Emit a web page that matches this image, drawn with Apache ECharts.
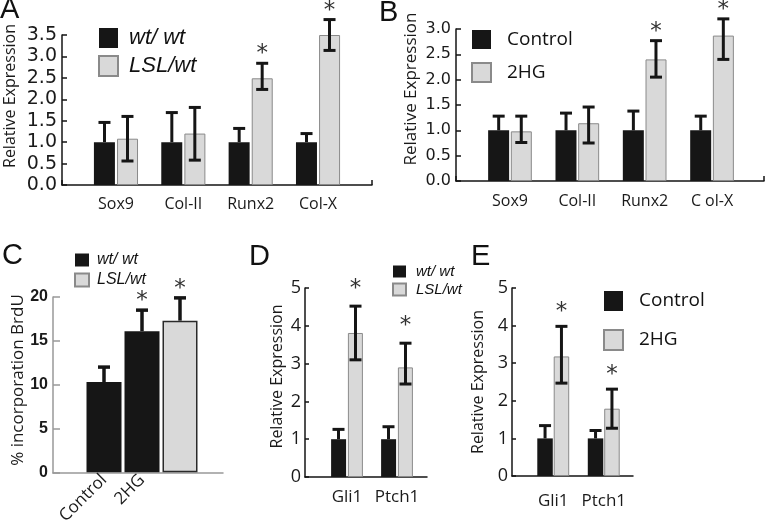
<!DOCTYPE html>
<html><head><meta charset="utf-8">
<script src="https://cdn.jsdelivr.net/npm/echarts@6/dist/echarts.min.js"></script>
<style>html,body{margin:0;padding:0;background:#fff}#c{width:768px;height:527px}</style>
</head><body><div id="c"></div>
<script>
// ---------- Panel A ----------
const aCats = ['Sox9', 'Col-II', 'Runx2', 'Col-X'];
const aWt = [1, 1, 1, 1];
const aWtHi = [1.46, 1.69, 1.32, 1.20];
const aLsl = [1.08, 1.20, 2.49, 3.50];
const aLslLo = [0.56, 0.58, 2.23, 3.14];
const aLslHi = [1.60, 1.81, 2.84, 3.86];
const aSig = [0, 0, 1, 1];
const aAxis = [0, 3.5, 0.5];
// ---------- Panel B ----------
const bCats = ['Sox9', 'Col-II', 'Runx2', 'C ol-X'];
const bCtrl = [1, 1, 1, 1];
const bCtrlHi = [1.28, 1.34, 1.38, 1.28];
const b2hg = [0.98, 1.14, 2.40, 2.87];
const b2hgLo = [0.76, 0.75, 2.05, 2.40];
const b2hgHi = [1.28, 1.46, 2.77, 3.20];
const bSig = [0, 0, 1, 1];
const bAxis = [0, 3.0, 0.5];
// ---------- Panel C ----------
const cCats = ['Control', '2HG', ''];
const cWt = [10.3, 16.1, '-'];
const cLsl = ['-', '-', 17.3];
const cVals = [10.3, 16.1, 17.3];
const cHi = [12.0, 18.5, 19.9];
const cSig = [0, 1, 1];
const cAxis = [0, 20, 5];
// ---------- Panel D ----------
const dCats = ['Gli1', 'Ptch1'];
const dWt = [1, 1];
const dWtHi = [1.26, 1.33];
const dLsl = [3.81, 2.90];
const dLslLo = [3.10, 2.46];
const dLslHi = [4.52, 3.54];
const dSig = [1, 1];
const dAxis = [0, 5, 1];
// ---------- Panel E ----------
const eCats = ['Gli1', 'Ptch1'];
const eCtrl = [1, 1];
const eCtrlHi = [1.34, 1.21];
const e2hg = [3.18, 1.79];
const e2hgLo = [2.47, 1.27];
const e2hgHi = [3.98, 2.31];
const eSig = [1, 1];
const eAxis = [0, 5, 1];

const BLACK = '#161616', GRAY = '#d9d9d9', GRAYB = '#8a8a8a', INK = '#151515';
const SANS = 'Open Sans';

function frameX(gi, color, endTick) {
  return { gridIndex: gi, type: 'value', min: 0, max: 1, interval: 1,
    axisLine: { show: true, onZero: false, lineStyle: { color: color, width: 1.5 } },
    axisTick: { show: endTick, inside: true, length: 5, lineStyle: { color: color, width: 1.5 } },
    axisLabel: { show: false }, splitLine: { show: false } };
}
function frameY(gi, ax, o) {
  return { gridIndex: gi, type: 'value', min: ax[0], max: ax[1], interval: ax[2],
    axisLine: { show: true, onZero: false, lineStyle: { color: o.color, width: 1.5 } },
    axisTick: { show: true, inside: true, length: o.tick, lineStyle: { color: o.color, width: 1.5 } },
    splitLine: { show: false },
    axisLabel: { margin: o.margin, color: '#1a1a1a', fontFamily: o.font, fontSize: o.size,
      fontWeight: o.weight || 'normal', formatter: o.fmt },
    name: o.name, nameLocation: 'middle', nameGap: o.gap,
    nameTextStyle: { fontFamily: SANS, fontSize: o.nsize, color: '#1a1a1a', padding: [0, 0, 0, o.shift] } };
}
function barsX(gi, cats, size, margin, extra) {
  return { gridIndex: gi, type: 'category', data: cats,
    axisLine: { show: false }, axisTick: { show: false }, splitLine: { show: false },
    axisLabel: Object.assign({ interval: 0, margin: margin, color: '#1a1a1a', fontFamily: SANS, fontSize: size }, extra || {}) };
}
function barsY(gi, ax) {
  return { gridIndex: gi, type: 'value', min: ax[0], max: ax[1], interval: ax[2], show: false };
}
function bar(name, gi, data, color, w, gap, border) {
  return { type: 'bar', name: name, xAxisIndex: gi, yAxisIndex: gi, data: data,
    barWidth: w, barGap: gap, silent: true,
    itemStyle: { color: color, borderColor: border ? border[0] : color, borderWidth: border ? border[1] : 0 } };
}
function errBars(gi, vals, lo, hi, sig, dx, starGap, lw, cap) {
  const data = vals.map(function (v, i) { return [i, v, lo ? lo[i] : v, hi[i], sig ? sig[i] : 0]; });
  return { type: 'custom', xAxisIndex: gi, yAxisIndex: gi, silent: true, z: 5, data: data,
    renderItem: function (params, api) {
      const i = api.value(0);
      const pHi = api.coord([i, api.value(3)]);
      const pLo = api.coord([i, api.value(2)]);
      const x = pHi[0] + dx;
      const st = { stroke: INK, lineWidth: lw };
      const ch = [
        { type: 'line', shape: { x1: x, y1: pLo[1], x2: x, y2: pHi[1] }, style: st },
        { type: 'line', shape: { x1: x - cap, y1: pHi[1], x2: x + cap, y2: pHi[1] }, style: st }
      ];
      if (lo) ch.push({ type: 'line', shape: { x1: x - cap, y1: pLo[1], x2: x + cap, y2: pLo[1] }, style: st });
      if (api.value(4)) ch.push({ type: 'text', x: x, y: pHi[1] - starGap + 4,
        style: { text: '*', font: '23px "DejaVu Sans"', fill: '#333', align: 'center', verticalAlign: 'middle' } });
      return { type: 'group', children: ch };
    } };
}
function letter(t, left, top) {
  return { type: 'text', left: left, top: top, style: { text: t, font: '29px "Liberation Sans"', fill: '#111' } };
}
const f1 = function (v) { return v.toFixed(1); };
const f0 = function (v) { return String(v); };

const option = {
  animation: false,
  backgroundColor: '#fff',
  grid: [
    { left: 62, top: 35, width: 310, height: 150 },
    { left: 82.3, top: 35, width: 269.4, height: 150 },
    { left: 456, top: 29, width: 308, height: 152 },
    { left: 476.3, top: 29, width: 269.4, height: 152 },
    { left: 53, top: 297, width: 170, height: 176 },
    { left: 85, top: 297, width: 114, height: 176 },
    { left: 305, top: 288, width: 122, height: 189 },
    { left: 322, top: 288, width: 100, height: 189 },
    { left: 512, top: 288, width: 121, height: 188 },
    { left: 528, top: 288, width: 101, height: 188 }
  ],
  xAxis: [
    frameX(0, INK, true), barsX(1, aCats, 16, 11),
    frameX(2, INK, true), barsX(3, bCats, 16, 12),
    frameX(4, '#999', false), barsX(5, cCats, 17, 5, { rotate: 45 }),
    frameX(6, INK, false), barsX(7, dCats, 17, 12),
    frameX(8, INK, false), barsX(9, eCats, 17, 17)
  ],
  yAxis: [
    frameY(0, aAxis, { color: INK, tick: 5, margin: 5, font: 'DejaVu Sans', size: 19, fmt: f1, name: 'Relative Expression', gap: 44, nsize: 16, shift: 28 }),
    barsY(1, aAxis),
    frameY(2, bAxis, { color: INK, tick: 5, margin: 5, font: 'DejaVu Sans', size: 16, fmt: f1, name: 'Relative Expression', gap: 36, nsize: 17, shift: 32 }),
    barsY(3, bAxis),
    frameY(4, cAxis, { color: '#999', tick: 7, margin: 5, font: 'Liberation Sans', size: 16, weight: 'bold', fmt: f0, name: '% incorporation BrdU', gap: 22, nsize: 17, shift: 10 }),
    barsY(5, cAxis),
    frameY(6, dAxis, { color: INK, tick: 4, margin: 4, font: SANS, size: 18, fmt: f0, name: 'Relative Expression', gap: 20, nsize: 16, shift: 12 }),
    barsY(7, dAxis),
    frameY(8, eAxis, { color: INK, tick: 4, margin: 4, font: SANS, size: 18, fmt: f0, name: 'Relative Expression', gap: 26, nsize: 16, shift: 0 }),
    barsY(9, eAxis)
  ],
  legend: [
    { data: ['wt/ wt', 'LSL/wt'], orient: 'vertical', left: 98, top: 27, padding: 0, itemWidth: 19, itemHeight: 20, itemGap: 6, selectedMode: false, icon: 'rect',
      textStyle: { fontFamily: 'Liberation Sans', fontStyle: 'italic', fontSize: 22, color: '#111', padding: [0, 0, 0, 6] } },
    { data: ['Control', '2HG'], orient: 'vertical', left: 471, top: 30, padding: 0, itemWidth: 19, itemHeight: 19, itemGap: 13, selectedMode: false, icon: 'rect',
      textStyle: { fontFamily: SANS, fontSize: 19, color: '#111', padding: [0, 0, 0, 11] } },
    { data: ['wt/ wt', 'LSL/wt'], orient: 'vertical', left: 74, top: 252, padding: 0, itemWidth: 14, itemHeight: 13, itemGap: 4, selectedMode: false, icon: 'rect',
      textStyle: { fontFamily: 'Liberation Sans', fontStyle: 'italic', fontSize: 16, color: '#111', padding: [0, 0, 0, 3] } },
    { data: ['wt/ wt', 'LSL/wt'], orient: 'vertical', left: 392, top: 264, padding: 0, itemWidth: 13, itemHeight: 12, itemGap: 3, selectedMode: false, icon: 'rect',
      textStyle: { fontFamily: 'Liberation Sans', fontStyle: 'italic', fontSize: 15, color: '#111', padding: [0, 0, 0, 5] } },
    { data: ['Control', '2HG'], orient: 'vertical', left: 603, top: 291, padding: 0, itemWidth: 19, itemHeight: 20, itemGap: 18, selectedMode: false, icon: 'rect',
      textStyle: { fontFamily: SANS, fontSize: 19, color: '#111', padding: [0, 0, 0, 11] } }
  ],
  graphic: [letter('A', 0, -5), letter('B', 379, -2), letter('C', 2, 241), letter('D', 249, 242), letter('E', 471, 242)],
  series: [
    bar('wt/ wt', 1, aWt, BLACK, 21, '10%'),
    bar('LSL/wt', 1, aLsl, GRAY, 21, '10%', [GRAYB, 1]),
    errBars(1, aWt, null, aWtHi, null, -11.5, 13, 3, 6),
    errBars(1, aLsl, aLslLo, aLslHi, aSig, 11.5, 13, 3, 6),

    bar('Control', 3, bCtrl, BLACK, 21, '8%'),
    bar('2HG', 3, b2hg, GRAY, 21, '8%', [GRAYB, 1]),
    errBars(3, bCtrl, null, bCtrlHi, null, -11.3, 13, 3, 6),
    errBars(3, b2hg, b2hgLo, b2hgHi, bSig, 11.3, 13, 3, 6),

    bar('wt/ wt', 5, cWt, BLACK, 35, '-100%'),
    bar('LSL/wt', 5, cLsl, GRAY, 35, '-100%', ['#2a2a2a', 1.5]),
    errBars(5, cVals, null, cHi, cSig, 0, 13, 3.5, 6),

    bar('wt/ wt', 7, dWt, BLACK, 15, '12%'),
    bar('LSL/wt', 7, dLsl, GRAY, 15, '12%', [GRAYB, 1]),
    errBars(7, dWt, null, dWtHi, null, -8.5, 21, 3, 6),
    errBars(7, dLsl, dLslLo, dLslHi, dSig, 8.5, 21, 3, 6),

    bar('Control', 9, eCtrl, BLACK, 15.5, '6%'),
    bar('2HG', 9, e2hg, GRAY, 15.5, '6%', [GRAYB, 1]),
    errBars(9, eCtrl, null, eCtrlHi, null, -8.2, 18, 3, 6),
    errBars(9, e2hg, e2hgLo, e2hgHi, eSig, 8.2, 18, 3, 6)
  ]
};
const chart = echarts.init(document.getElementById('c'), null, { renderer: 'canvas' });
chart.setOption(option);
</script></body></html>
